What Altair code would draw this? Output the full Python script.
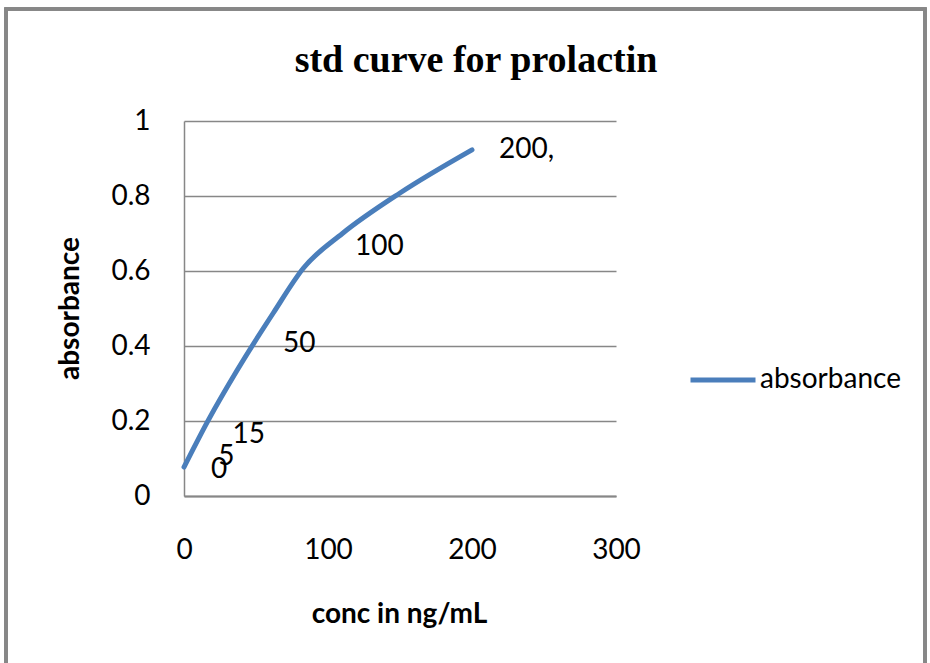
import altair as alt
import pandas as pd

# line vertices
conc_line = [0, 17, 37, 62, 83, 110, 150, 200]
abs_line = [0.077, 0.203, 0.336, 0.488, 0.608, 0.70, 0.808, 0.923]

# data labels (standard concentrations)
label_text = ["0", "5", "15", "50", "100", "200,"]
label_conc = [0, 5, 15, 50, 100, 200]
label_abs = [0.069, 0.104, 0.163, 0.405, 0.664, 0.923]

series_name = "absorbance"
chart_title = "std curve for prolactin"
x_ticks = [0, 100, 200, 300]
y_ticks = [0, 0.2, 0.4, 0.6, 0.8, 1]

line_df = pd.DataFrame({"conc": conc_line, "abs": abs_line, "series": series_name})
lab_df = pd.DataFrame({"conc": label_conc, "abs": label_abs, "text": label_text})
title_df = pd.DataFrame({"t": [chart_title]})

FONT = "Lato"
GRAY = "#878787"
BLUE = "#4A7EBB"

x_scale = alt.Scale(domain=[0, 300], nice=False)
y_scale = alt.Scale(domain=[0, 1], nice=False)

line = alt.Chart(line_df).mark_line(strokeWidth=5, strokeCap="round", strokeJoin="round",
                                    interpolate="monotone").encode(
    x=alt.X("conc:Q", scale=x_scale,
            axis=alt.Axis(values=x_ticks, grid=False, ticks=False, domainColor=GRAY, domainWidth=2,
                          labelFont=FONT, labelFontSize=28, labelColor="#000000", labelPadding=40,
                          labelFlush=False,
                          title="conc in ng/mL", titleFont=FONT, titleFontSize=28, titleFontWeight="bold",
                          titleColor="#000000", titleX=215, titleY=126, titleBaseline="alphabetic",
                          titleAlign="center")),
    y=alt.Y("abs:Q", scale=y_scale,
            axis=alt.Axis(values=y_ticks, format="~g", grid=True, gridColor=GRAY, gridWidth=1.5,
                          ticks=False, domainColor=GRAY, domainWidth=1.5,
                          labelFont=FONT, labelFontSize=28, labelColor="#000000", labelPadding=34,
                          labelFlush=False,
                          title="absorbance", titleFont=FONT, titleFontSize=28, titleFontWeight="bold",
                          titleColor="#000000", titleAngle=-90, titleX=-114, titleY=187,
                          titleBaseline="middle", titleAlign="center")),
    color=alt.Color("series:N", scale=alt.Scale(range=[BLUE]),
                    legend=alt.Legend(title=None, orient="none", legendX=504, legendY=224,
                                      symbolType="stroke", symbolSize=4225, symbolStrokeWidth=5,
                                      labelFont=FONT, labelFontSize=28, labelColor="#000000",
                                      labelOffset=2, padding=0)),
)

labels = alt.Chart(lab_df).mark_text(align="left", baseline="middle", dx=27, font=FONT,
                                     fontSize=28, color="#000000").encode(
    x=alt.X("conc:Q", scale=x_scale),
    y=alt.Y("abs:Q", scale=y_scale),
    text="text:N",
)

title = alt.Chart(title_df).mark_text(align="center", baseline="alphabetic", font="Liberation Serif",
                                      fontSize=38, fontWeight="bold", color="#000000").encode(
    x=alt.value(292), y=alt.value(-49), text="t:N"
)

border = alt.Chart(line_df).mark_rect(fill="transparent", stroke=GRAY, strokeWidth=3).encode(
    x=alt.value(-178), x2=alt.value(741), y=alt.value(-112), y2=alt.value(600)
)

chart = alt.layer(border, line, labels, title).properties(
    width=432,
    height=375,
    autosize=alt.AutoSizeParams(type="none"),
    padding={"left": 184, "top": 121, "right": 314, "bottom": 167},
    background="white",
).configure_view(strokeWidth=0)

chart.save("out.html", embed_options={"renderer": "svg", "actions": False})
